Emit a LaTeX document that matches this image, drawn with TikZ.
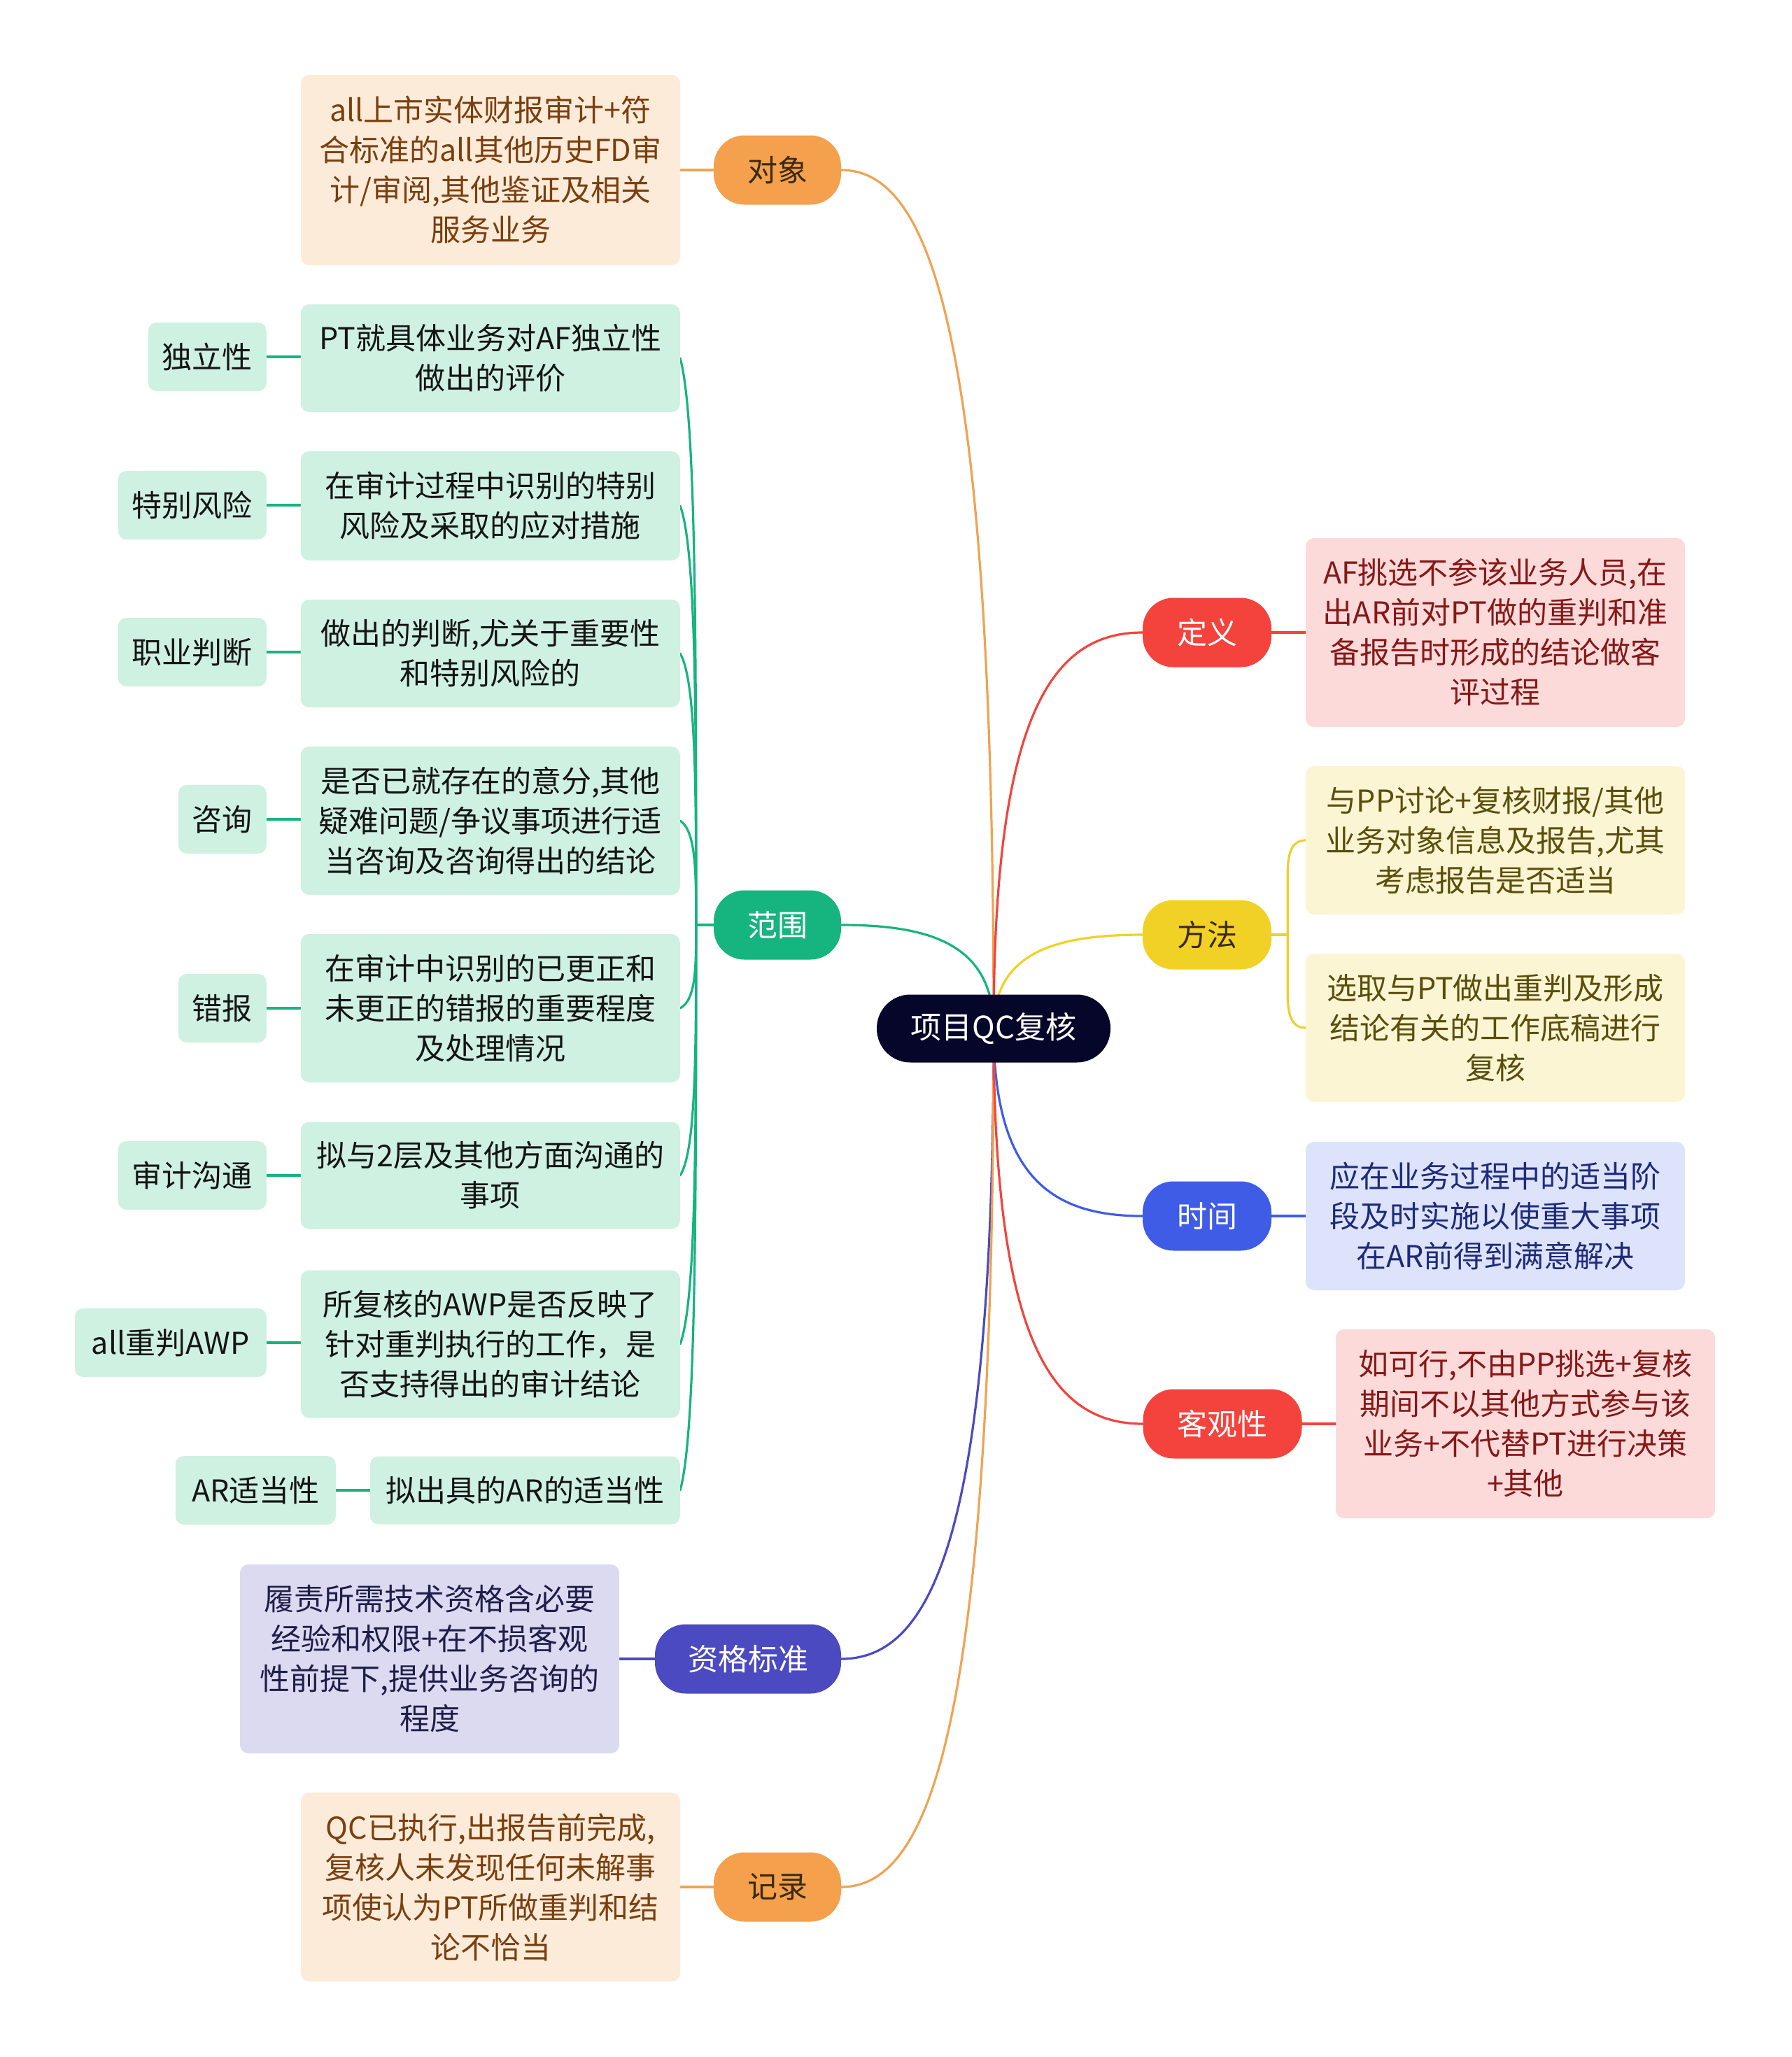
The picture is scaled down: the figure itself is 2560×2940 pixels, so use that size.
\documentclass[tikz,border=0pt]{standalone}
\usepackage{fontspec}
\setmainfont{Noto Sans CJK SC}
\usetikzlibrary{calc}
\pgfdeclarelayer{bg}
\pgfsetlayers{bg,main}
\definecolor{rootc}{HTML}{06062A}
\definecolor{orangec}{HTML}{F4A04C}
\definecolor{orangel}{HTML}{EFA352}
\definecolor{peach}{HTML}{FDEBDA}
\definecolor{brownt}{HTML}{7A3F0E}
\definecolor{greenc}{HTML}{16B47F}
\definecolor{mint}{HTML}{CFF1E2}
\definecolor{redc}{HTML}{F4433C}
\definecolor{pinkf}{HTML}{FCDADA}
\definecolor{redt}{HTML}{861818}
\definecolor{yellowc}{HTML}{F1D126}
\definecolor{yellowl}{HTML}{EDCF33}
\definecolor{creamf}{HTML}{FBF5D3}
\definecolor{olivet}{HTML}{5A4E0C}
\definecolor{bluec}{HTML}{3F5CE6}
\definecolor{bluef}{HTML}{DCE3FA}
\definecolor{bluet}{HTML}{1F2A7A}
\definecolor{indigoc}{HTML}{4B4AC0}
\definecolor{lavf}{HTML}{DCDAF0}
\definecolor{indigot}{HTML}{1E1E4A}
\definecolor{darkt}{HTML}{3A2A12}
\definecolor{blackt}{HTML}{151515}
\begin{document}
\begin{tikzpicture}[x=1pt,y=-1pt,
  base/.style={font=\fontsize{43}{57}\selectfont, align=center, inner ysep=0pt, inner xsep=18pt},
  mainn/.style={base, rounded corners=44pt, minimum height=99pt, minimum width=182pt, text=white},
  leaf/.style={base, rounded corners=12pt, minimum width=542pt},
  tag/.style={base, rounded corners=12pt, fill=mint, text=blackt, minimum height=98pt, anchor=east},
  sleaf/.style={leaf, fill=mint, text=blackt, anchor=east},
  conn/.style={line width=3.2pt, draw=#1, line cap=round}
]
\begin{pgfonlayer}{bg}
\fill[white] (0,0) rectangle (2560,2940);
\end{pgfonlayer}
\useasboundingbox (0,0) rectangle (2560,2940);

% root
\node[base, rounded corners=48pt, fill=rootc, text=white, minimum width=334pt, minimum height=97pt, font=\fontsize{44}{57}\selectfont] (root) at (1420,1470) {项目QC复核};

% main branches
\node[mainn, fill=orangec, text=darkt] (dx) at (1111,243) {对象};
\node[mainn, fill=greenc] (fw) at (1111,1322) {范围};
\node[mainn, fill=indigoc, minimum width=266pt] (zg) at (1069,2371) {资格标准};
\node[mainn, fill=orangec, text=darkt] (jl) at (1111,2697) {记录};
\node[mainn, fill=redc, minimum width=184pt] (dy) at (1725,904) {定义};
\node[mainn, fill=yellowc, text=darkt, minimum width=184pt] (ff) at (1725,1336) {方法};
\node[mainn, fill=bluec, minimum width=184pt] (sj) at (1725,1738) {时间};
\node[mainn, fill=redc, minimum width=227pt] (kg) at (1747,2035) {客观性};

% leaves of main branches
\node[leaf, fill=peach, text=brownt, minimum height=272pt] (dxL) at (701,243) {all上市实体财报审计+符\\合标准的all其他历史FD审\\计/审阅,其他鉴证及相关\\服务业务};
\node[leaf, fill=pinkf, text=redt, minimum height=270pt] (dyL) at (2137,904) {AF挑选不参该业务人员,在\\出AR前对PT做的重判和准\\备报告时形成的结论做客\\评过程};
\node[leaf, fill=creamf, text=olivet, minimum height=212pt] (ff1) at (2137,1201) {与PP讨论+复核财报/其他\\业务对象信息及报告,尤其\\考虑报告是否适当};
\node[leaf, fill=creamf, text=olivet, minimum height=212pt] (ff2) at (2137,1469) {选取与PT做出重判及形成\\结论有关的工作底稿进行\\复核};
\node[leaf, fill=bluef, text=bluet, minimum height=212pt] (sjL) at (2137,1738) {应在业务过程中的适当阶\\段及时实施以使重大事项\\在AR前得到满意解决};
\node[leaf, fill=pinkf, text=redt, minimum height=270pt] (kgL) at (2180,2035) {如可行,不由PP挑选+复核\\期间不以其他方式参与该\\业务+不代替PT进行决策\\+其他};
\node[leaf, fill=lavf, text=indigot, minimum height=270pt] (zgL) at (614,2371) {履责所需技术资格含必要\\经验和权限+在不损客观\\性前提下,提供业务咨询的\\程度};
\node[leaf, fill=peach, text=brownt, minimum height=270pt] (jlL) at (701,2697) {QC已执行,出报告前完成,\\复核人未发现任何未解事\\项使认为PT所做重判和结\\论不恰当};

% scope leaves
\node[sleaf, minimum height=154pt] (s1) at (972,512) {PT就具体业务对AF独立性\\做出的评价};
\node[sleaf, minimum height=156pt] (s2) at (972,723) {在审计过程中识别的特别\\风险及采取的应对措施};
\node[sleaf, minimum height=154pt] (s3) at (972,934) {做出的判断,尤关于重要性\\和特别风险的};
\node[sleaf, minimum height=212pt] (s4) at (972,1173) {是否已就存在的意分,其他\\疑难问题/争议事项进行适\\当咨询及咨询得出的结论};
\node[sleaf, minimum height=212pt] (s5) at (972,1441) {在审计中识别的已更正和\\未更正的错报的重要程度\\及处理情况};
\node[sleaf, minimum height=153pt] (s6) at (972,1680) {拟与2层及其他方面沟通的\\事项};
\node[sleaf, minimum height=211pt] (s7) at (972,1921) {所复核的AWP是否反映了\\针对重判执行的工作，是\\否支持得出的审计结论};
\node[sleaf, minimum height=97pt, minimum width=443pt] (s8) at (972,2130) {拟出具的AR的适当性};

% tags
\node[tag, minimum width=169pt] (t1) at (381,510) {独立性};
\node[tag, minimum width=212pt] (t2) at (381,722) {特别风险};
\node[tag, minimum width=212pt] (t3) at (381,932) {职业判断};
\node[tag, minimum width=126pt] (t4) at (381,1171) {咨询};
\node[tag, minimum width=126pt] (t5) at (381,1441) {错报};
\node[tag, minimum width=212pt] (t6) at (381,1680) {审计沟通};
\node[tag, minimum width=274pt] (t7) at (381,1919) {all重判AWP};
\node[tag, minimum width=229pt] (t8) at (480,2130) {AR适当性};

\coordinate (fwj) at ($(fw.west)+(-25,0)$);
\coordinate (ffj) at ($(ff.east)+(23,0)$);

\begin{pgfonlayer}{bg}
% main connectors
\foreach \n/\c in {dx/orangel, fw/greenc, zg/indigoc, jl/orangel}{
  \draw[conn=\c] (\n.east) .. controls ($(\n.east)!0.6!(\n.east -| root)$) and ($(root)!0.8!(root |- \n.east)$) .. (root.center);
}
\foreach \n/\c in {dy/redc, ff/yellowc, sj/bluec, kg/redc}{
  \draw[conn=\c] (\n.west) .. controls ($(\n.west)!0.6!(\n.west -| root)$) and ($(root)!0.8!(root |- \n.west)$) .. (root.center);
}
% branch to leaf
\draw[conn=orangel] (dx.west) -- (dxL.east);
\draw[conn=orangel] (jl.west) -- (jlL.east);
\draw[conn=indigoc] (zg.west) -- (zgL.east);
\draw[conn=redc] (dy.east) -- (dyL.west);
\draw[conn=bluec] (sj.east) -- (sjL.west);
\draw[conn=redc] (kg.east) -- (kgL.west);
% scope bracket
\draw[conn=greenc] (fw.west) -- (fwj);
\foreach \s in {s1,s2,s3,s4,s5,s6,s7,s8}{
  \draw[conn=greenc] (\s.east) .. controls ($(fwj |- \s.east)!0.1!(fwj)$) and ($(fwj |- \s.east)!0.5!(fwj)$) .. (fwj);
}
% tags to scope leaves
\foreach \t/\s in {t1/s1,t2/s2,t3/s3,t4/s4,t5/s5,t6/s6,t7/s7,t8/s8}{
  \draw[conn=greenc] (\t.east) -- (\t.east -| \s.west);
}
% method bracket
\draw[conn=yellowl] (ff.east) -- (ffj);
\draw[conn=yellowl] (ffj) -- ($(ffj |- ff1.west)+(0,48)$) .. controls ($(ffj |- ff1.west)+(0,14)$) and ($(ffj |- ff1.west)+(8,0)$) .. (ff1.west);
\draw[conn=yellowl] (ffj) -- ($(ffj |- ff2.west)+(0,-48)$) .. controls ($(ffj |- ff2.west)+(0,-14)$) and ($(ffj |- ff2.west)+(8,0)$) .. (ff2.west);
\end{pgfonlayer}
\end{tikzpicture}
\end{document}
